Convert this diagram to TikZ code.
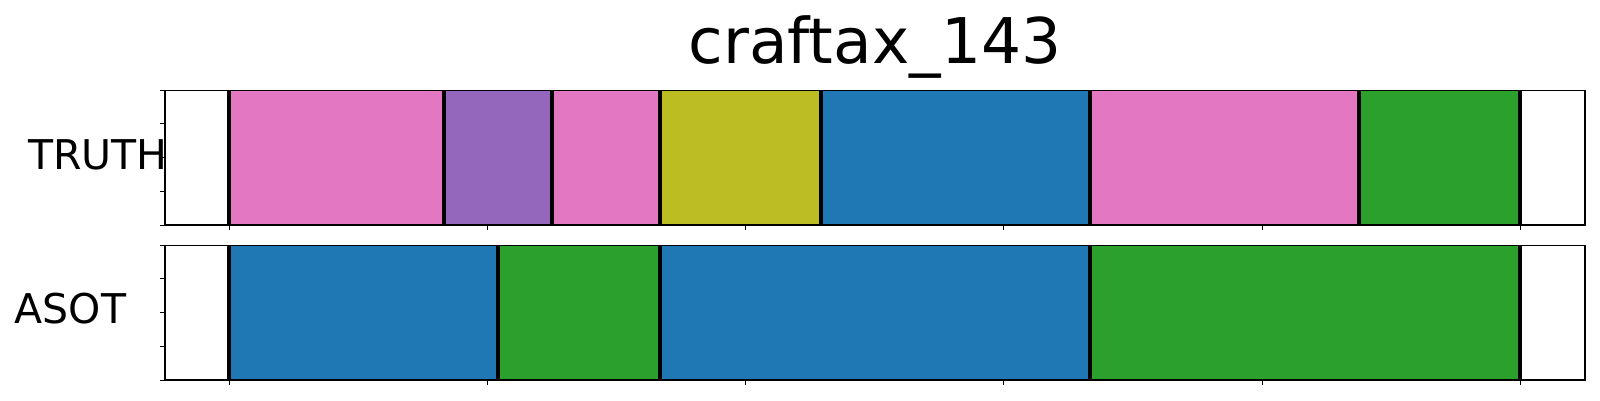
\documentclass[tikz,border=0pt]{standalone}
\usepackage{fontspec}
\setmainfont{DejaVu Sans}
\definecolor{tpink}{HTML}{E377C2}
\definecolor{tpurple}{HTML}{9467BD}
\definecolor{tolive}{HTML}{BCBD22}
\definecolor{tblue}{HTML}{1F77B4}
\definecolor{tgreen}{HTML}{2CA02C}
\begin{document}
\begin{tikzpicture}[x=1pt,y=-1pt,
  seg/.style={line width=4pt,draw=black},
  frame/.style={line width=1.2pt,draw=black},
  tick/.style={line width=1pt,draw=black}]
\useasboundingbox (0,0) rectangle (1600,400);
% title
\node[anchor=base,inner sep=0pt,font=\fontsize{63}{63}\selectfont] (title) at (875,63) {craftax\_143};
% labels
\node[anchor=base west,inner sep=0pt,font=\fontsize{41}{41}\selectfont] (truth) at (28,169) {TRUTH};
\node[anchor=base west,inner sep=0pt,font=\fontsize{41}{41}\selectfont] (asot) at (14.5,323.3) {ASOT};
% truth segments
\foreach \a/\b/\c in {229/444/tpink,444/552/tpurple,552/660/tpink,660/821/tolive,821/1090/tblue,1090/1359/tpink,1359/1520/tgreen}
  \fill[\c] (\a,90.3) rectangle (\b,225);
\foreach \x in {229,444,552,660,821,1090,1359,1520}
  \draw[seg] (\x,90.3) -- (\x,225);
% asot segments
\foreach \a/\b/\c in {229/498/tblue,498/660/tgreen,660/1090/tblue,1090/1520/tgreen}
  \fill[\c] (\a,245.3) rectangle (\b,380);
\foreach \x in {229,498,660,1090,1520}
  \draw[seg] (\x,245.3) -- (\x,380);
% frames
\draw[frame] (165,90.3) rectangle (1585,225);
\draw[frame] (165,245.3) rectangle (1585,380);
% y ticks
\foreach \i in {0,...,4} {
  \draw[tick] (165,90.3+\i*33.675) -- (160,90.3+\i*33.675);
  \draw[tick] (165,245.3+\i*33.675) -- (160,245.3+\i*33.675);
}
% x ticks
\foreach \i in {0,...,5} {
  \draw[tick] (229+\i*258.3,225) -- (229+\i*258.3,230);
  \draw[tick] (229+\i*258.3,380) -- (229+\i*258.3,385);
}
\end{tikzpicture}
\end{document}
